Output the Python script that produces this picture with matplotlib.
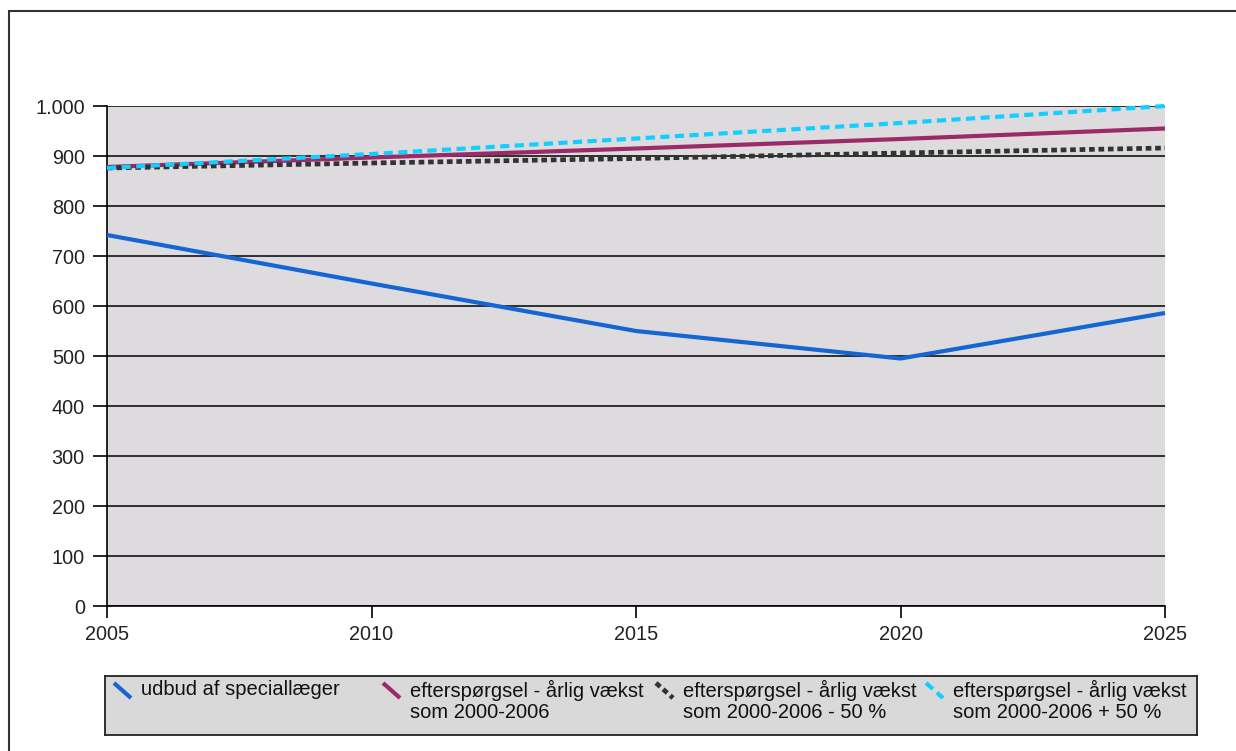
import matplotlib
matplotlib.use("Agg")
import matplotlib.pyplot as plt
from matplotlib.patches import Rectangle

plt.rcParams['font.family'] = ['Liberation Sans', 'DejaVu Sans']

# ---- data ----
years = [2005, 2010, 2015, 2020, 2025]
udbud = [742, 645, 550, 495, 586]
eft_basis = [878, 897, 915, 934, 955]
eft_minus50 = [876, 886, 895, 906, 916]
eft_plus50 = [876, 904, 935, 966, 1000]

y_ticks = [0, 100, 200, 300, 400, 500, 600, 700, 800, 900, 1000]
y_ticklabels = ["0", "100", "200", "300", "400", "500", "600", "700", "800", "900", "1.000"]

labels = [
    "udbud af speciallæger",
    "efterspørgsel - årlig vækst\nsom 2000-2006",
    "efterspørgsel - årlig vækst\nsom 2000-2006 - 50 %",
    "efterspørgsel - årlig vækst\nsom 2000-2006 + 50 %",
]

W, H = 1236, 751
fig = plt.figure(figsize=(W / 100, H / 100), dpi=100)
fig.patch.set_facecolor("white")

# outer frame
fig.patches.append(Rectangle((9 / W, -0.1), 1.2, 0.1 + 1 - 11 / H, fill=False,
                             edgecolor="#333333", lw=1.5, transform=fig.transFigure,
                             figure=fig))

ax = fig.add_axes([107 / W, (H - 606) / H, (1165 - 107) / W, 500 / H])
ax.set_facecolor("#dddbde")

styles = [
    dict(color="#1565d2", lw=3.0, ls="-", solid_capstyle="butt"),
    dict(color="#9b2a68", lw=3.0, ls="-", solid_capstyle="butt"),
    dict(color="#333333", lw=3.4, ls=(0, (1.2, 0.8)), dash_capstyle="butt"),
    dict(color="#12cfff", lw=3.0, ls=(0, (2.2, 1.3)), dash_capstyle="butt"),
]
series = [udbud, eft_basis, eft_minus50, eft_plus50]

for vals, st in zip(series, styles):
    ax.plot(years, vals, zorder=3, clip_on=False, **st)

ax.set_xlim(2005, 2025)
ax.set_ylim(0, 1000)
ax.set_xticks(years)
ax.set_xticklabels([str(y) for y in years])
ax.set_yticks(y_ticks)
ax.set_yticklabels(y_ticklabels)
ax.grid(axis="y", color="black", lw=1.1, zorder=1)
ax.set_axisbelow(True)
for s in ["top", "right"]:
    ax.spines[s].set_visible(False)
for s in ["left", "bottom"]:
    ax.spines[s].set_color("black")
    ax.spines[s].set_linewidth(1.2)
ax.tick_params(axis="y", length=10, width=1.2, pad=6, labelsize=14.3, colors="black")
ax.tick_params(axis="x", length=8.5, width=1.2, pad=5, labelsize=14.3, colors="black")
for t in ax.get_xticklabels() + ax.get_yticklabels():
    t.set_color("#222222")

# ---- legend box ----
lx0, lx1, ly0, ly1 = 105, 1197, 676, 735
lax = fig.add_axes([lx0 / W, (H - ly1) / H, (lx1 - lx0) / W, (ly1 - ly0) / H])
lax.set_facecolor("#d9d9d9")
lax.set_xlim(0, lx1 - lx0)
lax.set_ylim(ly1 - ly0, 0)
lax.set_xticks([])
lax.set_yticks([])
for s in lax.spines.values():
    s.set_color("#222222")
    s.set_linewidth(1.3)

col_x = [0, 269, 542, 812]
for cx, lab, st in zip(col_x, labels, styles):
    lax.plot([cx + 9, cx + 26], [7, 22], **st)
    lax.text(cx + 36, 4, lab, ha="left", va="top", fontsize=14.5,
             color="#111111", linespacing=1.15)

fig.savefig("out.png", dpi=100)
